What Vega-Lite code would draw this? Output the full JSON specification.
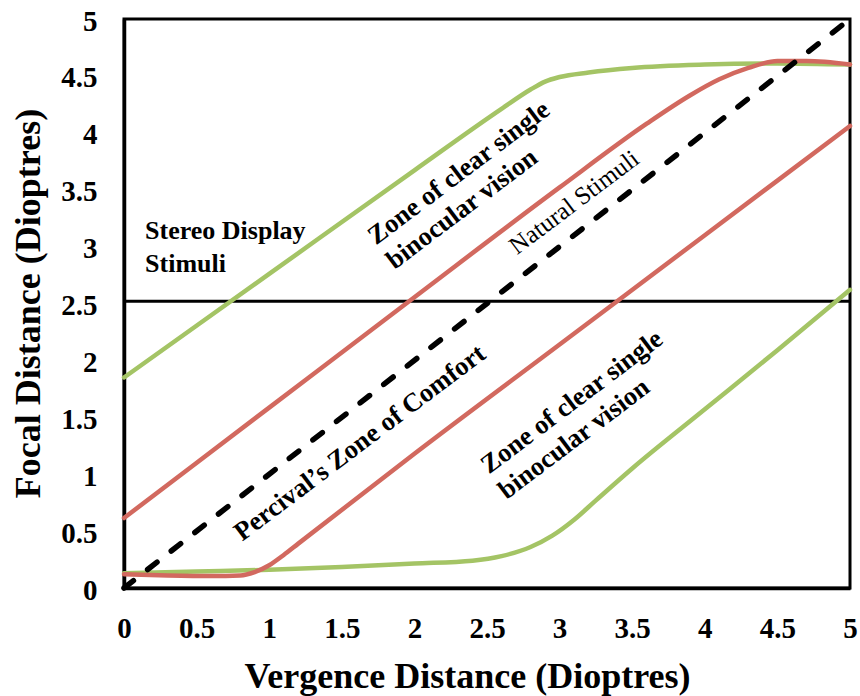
{
  "$schema": "https://vega.github.io/schema/vega-lite/v6.json",
  "width": 726,
  "height": 569,
  "autosize": "none",
  "padding": {"left": 124, "top": 19, "right": 10, "bottom": 108},
  "background": "white",
  "config": {
    "font": "Liberation Serif",
    "view": {"stroke": "black", "strokeWidth": 3},
    "axis": {"grid": false}
  },
  "datasets": {
    "curves": [
      {"series": "green_upper", "x": 0, "y": 1.85},
      {"series": "green_upper", "x": 1, "y": 2.76},
      {"series": "green_upper", "x": 2, "y": 3.67},
      {"series": "green_upper", "x": 2.6, "y": 4.21},
      {"series": "green_upper", "x": 2.8, "y": 4.38},
      {"series": "green_upper", "x": 2.9, "y": 4.45},
      {"series": "green_upper", "x": 3.0, "y": 4.49},
      {"series": "green_upper", "x": 3.2, "y": 4.53},
      {"series": "green_upper", "x": 3.5, "y": 4.57},
      {"series": "green_upper", "x": 4.0, "y": 4.6},
      {"series": "green_upper", "x": 4.5, "y": 4.61},
      {"series": "green_upper", "x": 5.0, "y": 4.6},
      {"series": "green_lower", "x": 0, "y": 0.13},
      {"series": "green_lower", "x": 0.5, "y": 0.145},
      {"series": "green_lower", "x": 1.0, "y": 0.16},
      {"series": "green_lower", "x": 1.5, "y": 0.185},
      {"series": "green_lower", "x": 2.0, "y": 0.215},
      {"series": "green_lower", "x": 2.4, "y": 0.24},
      {"series": "green_lower", "x": 2.6, "y": 0.28},
      {"series": "green_lower", "x": 2.8, "y": 0.36},
      {"series": "green_lower", "x": 2.95, "y": 0.46},
      {"series": "green_lower", "x": 3.1, "y": 0.6},
      {"series": "green_lower", "x": 3.25, "y": 0.77},
      {"series": "green_lower", "x": 3.5, "y": 1.05},
      {"series": "green_lower", "x": 4.0, "y": 1.57},
      {"series": "green_lower", "x": 4.5, "y": 2.09},
      {"series": "green_lower", "x": 5.0, "y": 2.62},
      {"series": "red_upper", "x": 0, "y": 0.615},
      {"series": "red_upper", "x": 1, "y": 1.585},
      {"series": "red_upper", "x": 2, "y": 2.555},
      {"series": "red_upper", "x": 3, "y": 3.52},
      {"series": "red_upper", "x": 3.6, "y": 4.08},
      {"series": "red_upper", "x": 3.9, "y": 4.33},
      {"series": "red_upper", "x": 4.1, "y": 4.47},
      {"series": "red_upper", "x": 4.3, "y": 4.57},
      {"series": "red_upper", "x": 4.5, "y": 4.63},
      {"series": "red_upper", "x": 4.7, "y": 4.63},
      {"series": "red_upper", "x": 5.0, "y": 4.6},
      {"series": "red_lower", "x": 0, "y": 0.12},
      {"series": "red_lower", "x": 0.3, "y": 0.11},
      {"series": "red_lower", "x": 0.6, "y": 0.105},
      {"series": "red_lower", "x": 0.8, "y": 0.11},
      {"series": "red_lower", "x": 0.9, "y": 0.14},
      {"series": "red_lower", "x": 1.0, "y": 0.2},
      {"series": "red_lower", "x": 1.1, "y": 0.29},
      {"series": "red_lower", "x": 1.2, "y": 0.39},
      {"series": "red_lower", "x": 2.0, "y": 1.18},
      {"series": "red_lower", "x": 3.0, "y": 2.14},
      {"series": "red_lower", "x": 4.0, "y": 3.1},
      {"series": "red_lower", "x": 5.0, "y": 4.06}
    ],
    "diagonal": [
      {"x": 0, "y": 0},
      {"x": 5, "y": 5}
    ],
    "display": [
      {"x": 0, "y": 2.52},
      {"x": 5, "y": 2.52}
    ],
    "majorticks": [
      {"v": 0.5}, {"v": 1}, {"v": 1.5}, {"v": 2}, {"v": 2.5}, {"v": 3}, {"v": 3.5}, {"v": 4}, {"v": 4.5}
    ],
    "minorticks": [
      {"v": 0.1}, {"v": 0.2}, {"v": 0.3}, {"v": 0.4}, {"v": 0.6}, {"v": 0.7}, {"v": 0.8}, {"v": 0.9},
      {"v": 1.1}, {"v": 1.2}, {"v": 1.3}, {"v": 1.4}, {"v": 1.6}, {"v": 1.7}, {"v": 1.8}, {"v": 1.9},
      {"v": 2.1}, {"v": 2.2}, {"v": 2.3}, {"v": 2.4}, {"v": 2.6}, {"v": 2.7}, {"v": 2.8}, {"v": 2.9},
      {"v": 3.1}, {"v": 3.2}, {"v": 3.3}, {"v": 3.4}, {"v": 3.6}, {"v": 3.7}, {"v": 3.8}, {"v": 3.9},
      {"v": 4.1}, {"v": 4.2}, {"v": 4.3}, {"v": 4.4}, {"v": 4.6}, {"v": 4.7}, {"v": 4.8}, {"v": 4.9}
    ],
    "labels": [
      {"kind": "flat", "x": 0.145, "y": 3.07, "label": "Stereo Display"},
      {"kind": "flat", "x": 0.145, "y": 2.78, "label": "Stimuli"},
      {"kind": "bold", "x": 2.307, "y": 3.647, "label": "Zone of clear single"},
      {"kind": "bold", "x": 2.328, "y": 3.33, "label": "binocular vision"},
      {"kind": "bold", "x": 1.625, "y": 1.274, "label": "Percival’s Zone of Comfort"},
      {"kind": "bold", "x": 3.085, "y": 1.634, "label": "Zone of clear single"},
      {"kind": "bold", "x": 3.10, "y": 1.31, "label": "binocular vision"},
      {"kind": "plain", "x": 3.10, "y": 3.39, "label": "Natural Stimuli"}
    ]
  },
  "encoding": {
    "x": {
      "field": "x",
      "type": "quantitative",
      "scale": {"domain": [0, 5], "nice": false, "zero": false},
      "axis": {
        "values": [0, 0.5, 1, 1.5, 2, 2.5, 3, 3.5, 4, 4.5, 5],
        "format": ".1~f",
        "ticks": false,
        "domainColor": "black",
        "domainWidth": 3.5,
        "labelFontSize": 29,
        "labelFontWeight": "bold",
        "labelColor": "black",
        "labelPadding": 26,
        "labelFlush": false,
        "labelOverlap": false,
        "labelBound": false,
        "title": "Vergence Distance (Dioptres)",
        "titleFontSize": 36,
        "titleFontWeight": "bold",
        "titleColor": "black",
        "titleX": 343,
        "titleY": 99,
        "titleAlign": "center",
        "titleBaseline": "alphabetic"
      }
    },
    "y": {
      "field": "y",
      "type": "quantitative",
      "scale": {"domain": [0, 5], "nice": false, "zero": false},
      "axis": {
        "values": [0, 0.5, 1, 1.5, 2, 2.5, 3, 3.5, 4, 4.5, 5],
        "format": ".1~f",
        "ticks": false,
        "domainColor": "black",
        "domainWidth": 3.5,
        "labelFontSize": 29,
        "labelFontWeight": "bold",
        "labelColor": "black",
        "labelPadding": 27,
        "labelOffset": 2,
        "labelFlush": false,
        "labelOverlap": false,
        "labelBound": false,
        "title": "Focal Distance (Dioptres)",
        "titleFontSize": 36,
        "titleFontWeight": "bold",
        "titleColor": "black",
        "titleAngle": 270,
        "titleX": -85,
        "titleY": 284,
        "titleAlign": "center",
        "titleBaseline": "alphabetic"
      }
    }
  },
  "layer": [
    {
      "data": {"name": "display"},
      "mark": {"type": "line", "color": "black", "strokeWidth": 3},
      "encoding": {}
    },
    {
      "data": {"name": "curves"},
      "transform": [{"filter": "indexof(datum.series, 'green') === 0"}],
      "mark": {"type": "line", "strokeWidth": 4.5, "interpolate": "monotone", "strokeCap": "round"},
      "encoding": {
        "color": {"field": "series", "type": "nominal", "scale": {"domain": ["green_upper", "green_lower", "red_upper", "red_lower"], "range": ["#A4C465", "#A4C465", "#D2695F", "#D2695F"]}, "legend": null}
      }
    },
    {
      "data": {"name": "curves"},
      "transform": [{"filter": "indexof(datum.series, 'red') === 0"}],
      "mark": {"type": "line", "strokeWidth": 4.5, "interpolate": "monotone", "strokeCap": "round"},
      "encoding": {
        "color": {"field": "series", "type": "nominal", "scale": {"domain": ["green_upper", "green_lower", "red_upper", "red_lower"], "range": ["#A4C465", "#A4C465", "#D2695F", "#D2695F"]}, "legend": null}
      }
    },
    {
      "data": {"name": "diagonal"},
      "mark": {"type": "line", "color": "black", "strokeWidth": 5.5, "strokeDash": [12, 18], "strokeCap": "round"},
      "encoding": {}
    },
    {
      "data": {"name": "labels"},
      "transform": [{"filter": "datum.kind === 'flat'"}],
      "mark": {"type": "text", "align": "left", "baseline": "alphabetic", "fontSize": 26, "fontWeight": "bold", "color": "black", "font": "Liberation Serif"},
      "encoding": {"text": {"field": "label"}}
    },
    {
      "data": {"name": "labels"},
      "transform": [{"filter": "datum.kind === 'bold'"}],
      "mark": {"type": "text", "align": "center", "baseline": "middle", "angle": -37, "fontSize": 26.5, "fontWeight": "bold", "color": "black", "font": "Liberation Serif"},
      "encoding": {"text": {"field": "label"}}
    },
    {
      "data": {"name": "labels"},
      "transform": [{"filter": "datum.kind === 'plain'"}],
      "mark": {"type": "text", "align": "center", "baseline": "middle", "angle": -37, "fontSize": 25, "fontWeight": "normal", "color": "black", "font": "Liberation Serif"},
      "encoding": {"text": {"field": "label"}}
    },
    {
      "data": {"name": "majorticks"},
      "mark": {"type": "rule", "color": "black", "strokeWidth": 2.5},
      "encoding": {"x": {"field": "v", "type": "quantitative"}, "y": {"datum": 0, "type": "quantitative"}, "y2": {"datum": 0.08}}
    },
    {
      "data": {"name": "minorticks"},
      "mark": {"type": "rule", "color": "black", "strokeWidth": 2.5},
      "encoding": {"x": {"field": "v", "type": "quantitative"}, "y": {"datum": 0, "type": "quantitative"}, "y2": {"datum": 0.045}}
    },
    {
      "data": {"name": "majorticks"},
      "mark": {"type": "rule", "color": "black", "strokeWidth": 2.5},
      "encoding": {"y": {"field": "v", "type": "quantitative"}, "x": {"datum": 0, "type": "quantitative"}, "x2": {"datum": 0.062}}
    },
    {
      "data": {"name": "minorticks"},
      "mark": {"type": "rule", "color": "black", "strokeWidth": 2.5},
      "encoding": {"y": {"field": "v", "type": "quantitative"}, "x": {"datum": 0, "type": "quantitative"}, "x2": {"datum": 0.035}}
    }
  ]
}
